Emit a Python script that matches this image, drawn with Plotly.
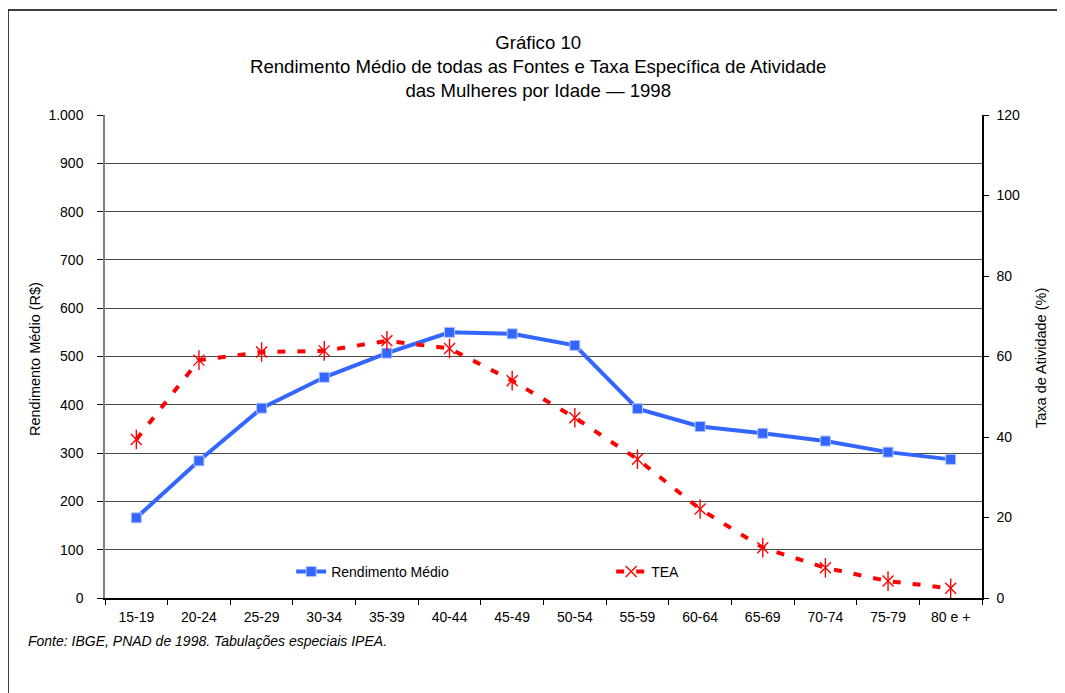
import plotly.graph_objects as go

categories = ["15-19", "20-24", "25-29", "30-34", "35-39", "40-44", "45-49",
              "50-54", "55-59", "60-64", "65-69", "70-74", "75-79", "80 e +"]
rendimento = [166, 284, 393, 457, 507, 550, 547, 523, 392, 355, 341, 325, 302, 287]
tea = [39.4, 59.1, 61.1, 61.4, 63.9, 62.0, 54.0, 44.8, 34.5, 22.1, 12.5, 7.5, 4.2, 2.4]

FONT = "Liberation Sans, Arial, sans-serif"
BLUE = "#3366FF"
RED = "#FF0000"

fig = go.Figure()
fig.add_trace(go.Scatter(
    x=categories, y=rendimento, name="Rendimento Médio", mode="lines+markers",
    line=dict(color=BLUE, width=4),
    marker=dict(symbol="square", size=10, color=BLUE,
                line=dict(color="#AFC4FF", width=1)),
    yaxis="y"))
fig.add_trace(go.Scatter(
    x=categories, y=tea, name="TEA", mode="lines+markers",
    line=dict(color=RED, width=4, dash="8px,12px"),
    marker=dict(symbol="x-thin-open", size=11, color=RED,
                line=dict(color=RED, width=1.4)),
    yaxis="y2"))
fig.add_trace(go.Scatter(
    x=categories, y=tea, name="TEA", mode="markers", showlegend=False,
    marker=dict(symbol="line-ns-open", size=14, color=RED,
                line=dict(color=RED, width=1.4)),
    yaxis="y2"))

fig.update_layout(
    width=1065, height=693,
    margin=dict(l=97, r=91, t=107, b=103),
    paper_bgcolor="white", plot_bgcolor="white",
    font=dict(family=FONT, size=14, color="#000000"),
    separators=",.",
    showlegend=True,
    legend=dict(orientation="h", x=0.2123, y=0.054, xanchor="left", yanchor="middle",
                bgcolor="rgba(0,0,0,0)", font=dict(size=14, family=FONT),
                entrywidth=275, entrywidthmode="pixels"),
    xaxis=dict(type="category", range=[-0.5, 13.5], showgrid=False, showline=True,
               linecolor="#000000", linewidth=1.5, ticks="outside", ticklen=5,
               tickcolor="#000000", tickson="boundaries", tickfont=dict(size=14),
               ticklabelstandoff=5, zeroline=False, automargin=False),
    yaxis=dict(range=[0, 1000], dtick=100, tickformat=",d", showgrid=True,
               gridcolor="#4a4a4a", gridwidth=1, showline=True, linecolor="#808080",
               linewidth=1.5, ticks="outside", ticklen=6, tickcolor="#000000",
               ticklabelstandoff=11, zeroline=False, tickfont=dict(size=14),
               automargin=False),
    yaxis2=dict(range=[0, 120], dtick=20, overlaying="y", side="right", showgrid=False,
                showline=True, linecolor="#000000", linewidth=1.5, ticks="outside",
                ticklen=5, tickcolor="#000000", ticklabelstandoff=5, zeroline=False,
                tickfont=dict(size=14), automargin=False),
)

fig.add_annotation(
    text="Gráfico 10<br>Rendimento Médio de todas as Fontes e Taxa Específica de Atividade<br>das Mulheres por Idade — 1998",
    xref="paper", yref="paper", x=0.494, y=1.176, xanchor="center", yanchor="top",
    showarrow=False, font=dict(size=18.6, family=FONT), align="center")

fig.add_annotation(
    text="Rendimento Médio (R$)", textangle=-90,
    xref="paper", yref="paper", x=(35 - 105) / 877, y=(598 - 359) / 483,
    xanchor="center", yanchor="middle", showarrow=False,
    font=dict(size=14.5, family=FONT))

fig.add_annotation(
    text="Taxa de Atividade (%)", textangle=-90,
    xref="paper", yref="paper", x=(1041 - 105) / 877, y=(598 - 358) / 483,
    xanchor="center", yanchor="middle", showarrow=False,
    font=dict(size=14.5, family=FONT))

fig.add_annotation(
    text="<i>Fonte: IBGE, PNAD de 1998. Tabulações especiais IPEA.</i>",
    xref="paper", yref="paper", x=-0.0901, y=-0.089, xanchor="left", yanchor="middle",
    showarrow=False, font=dict(size=14, family=FONT))

fig.add_shape(type="rect", xref="paper", yref="paper", x0=-0.1106, x1=1.25,
              y0=-0.35, y1=1.2174, line=dict(color="#000000", width=1.5),
              fillcolor="rgba(0,0,0,0)", layer="below")

fig.write_html("out.html")
